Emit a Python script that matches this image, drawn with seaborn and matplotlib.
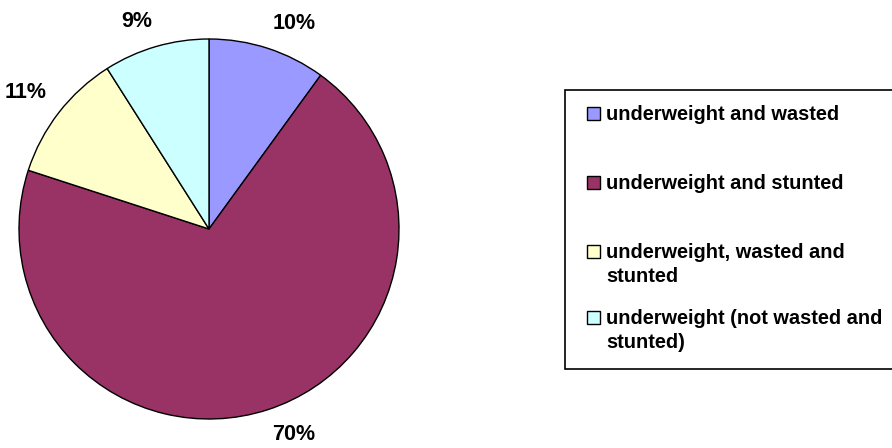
import matplotlib
matplotlib.use("Agg")
import matplotlib.pyplot as plt
from matplotlib.patches import Rectangle
import seaborn as sns

# Share of underweight children by accompanying condition (%)
categories = [
    "underweight and wasted",
    "underweight and stunted",
    "underweight, wasted and\nstunted",
    "underweight (not wasted and\nstunted)",
]
shares = [10, 70, 11, 9]
pct_labels = ["10%", "70%", "11%", "9%"]
slice_colors = ["#9999FF", "#993366", "#FFFFCC", "#CCFFFF"]

sns.set_theme(style="white")
plt.rcParams["font.family"] = ["Liberation Sans", "DejaVu Sans"]
plt.rcParams["font.weight"] = "bold"

W, H = 892, 448
fig = plt.figure(figsize=(W / 100, H / 100), dpi=100)
fig.patch.set_facecolor("white")


def fx(x):
    return x / W


def fy(y):
    return 1 - y / H


# Pie, drawn clockwise from 12 o'clock
ax = fig.add_axes([fx(19), 29 / H, 380 / W, 380 / H])
wedges, texts = ax.pie(
    shares,
    labels=pct_labels,
    colors=sns.color_palette(slice_colors),
    startangle=90,
    counterclock=False,
    radius=1,
    labeldistance=1.08,
    wedgeprops=dict(edgecolor="black", linewidth=1.0),
    textprops=dict(fontsize=15.5, fontweight="bold", color="black"),
)
# Outside-end labels: anchor the box corner that faces the pie
for t in texts:
    x, y = t.get_position()
    t.set_horizontalalignment("left" if x > 0 else "right")
    t.set_verticalalignment("bottom" if y > 0 else "top")
    t.set_clip_on(False)
ax.set_xlim(-1, 1)
ax.set_ylim(-1, 1)
ax.set_aspect("equal")
ax.axis("off")

# Legend panel (runs off the right edge of the canvas)
box_left, box_top, box_bottom = 565, 90, 369
fig.patches.append(
    Rectangle((fx(box_left), fy(box_bottom)), fx(W + 20 - box_left),
              (box_bottom - box_top) / H, transform=fig.transFigure,
              facecolor="white", edgecolor="black", linewidth=1.2,
              clip_on=False, zorder=1)
)
baselines = [120, 189, 258, 324]
line_step = 24
sw = 13
for label, color, base in zip(categories, slice_colors, baselines):
    fig.patches.append(
        Rectangle((fx(587), fy(base)), sw / W, sw / H,
                  transform=fig.transFigure, facecolor=color,
                  edgecolor="black", linewidth=1.0, zorder=2)
    )
    for i, line in enumerate(label.split("\n")):
        fig.text(fx(606), fy(base + i * line_step), line, ha="left",
                 va="baseline", fontsize=14.4, fontweight="bold",
                 color="black", zorder=3)

fig.savefig("out.png", dpi=100, facecolor="white")
